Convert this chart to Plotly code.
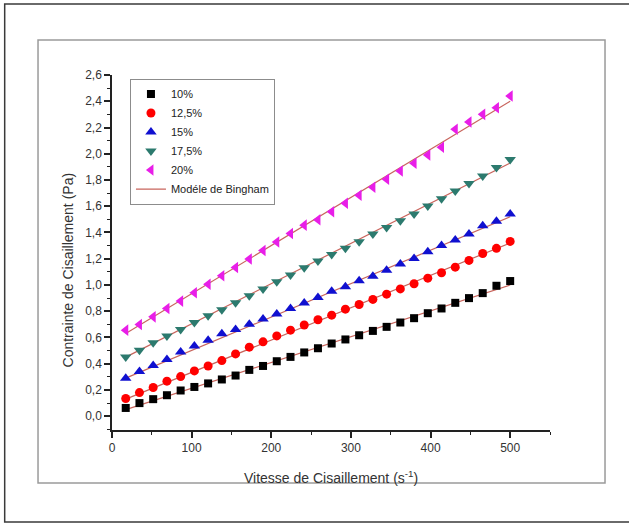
import plotly.graph_objects as go

# Shear rate (s^-1) at which each stress reading was taken
shear_rate = [17.24, 34.48, 51.72, 68.97, 86.21, 103.45, 120.69, 137.93, 155.17, 172.41,
              189.66, 206.90, 224.14, 241.38, 258.62, 275.86, 293.10, 310.34, 327.59, 344.83,
              362.07, 379.31, 396.55, 413.79, 431.03, 448.28, 465.52, 482.76, 500.00]

# Measured shear stress (Pa) per concentration
stress_10 = [0.063, 0.100, 0.130, 0.160, 0.196, 0.223, 0.250, 0.280, 0.310, 0.353,
             0.383, 0.419, 0.452, 0.486, 0.518, 0.554, 0.585, 0.617, 0.650, 0.681,
             0.714, 0.747, 0.785, 0.821, 0.864, 0.900, 0.938, 0.994, 1.030]
stress_12_5 = [0.135, 0.180, 0.219, 0.267, 0.302, 0.345, 0.383, 0.424, 0.475, 0.526,
               0.567, 0.612, 0.656, 0.695, 0.735, 0.770, 0.816, 0.851, 0.890, 0.930,
               0.970, 1.009, 1.052, 1.093, 1.136, 1.187, 1.240, 1.279, 1.332]
stress_15 = [0.290, 0.340, 0.386, 0.432, 0.490, 0.535, 0.579, 0.628, 0.661, 0.700,
             0.740, 0.778, 0.821, 0.862, 0.905, 0.953, 0.986, 1.032, 1.067, 1.113,
             1.159, 1.202, 1.253, 1.301, 1.342, 1.388, 1.452, 1.485, 1.540]
stress_17_5 = [0.452, 0.503, 0.559, 0.612, 0.661, 0.714, 0.765, 0.812, 0.864, 0.918,
               0.970, 1.025, 1.077, 1.131, 1.182, 1.233, 1.279, 1.329, 1.388, 1.438,
               1.489, 1.540, 1.601, 1.657, 1.716, 1.774, 1.830, 1.896, 1.957]
stress_20 = [0.656, 0.699, 0.757, 0.821, 0.877, 0.941, 1.005, 1.070, 1.134, 1.198,
             1.263, 1.327, 1.392, 1.456, 1.497, 1.558, 1.622, 1.683, 1.744, 1.805,
             1.868, 1.927, 1.990, 2.049, 2.186, 2.242, 2.300, 2.351, 2.440]

# Bingham model fits: stress at the first and last shear rate
bingham_rate = [17.24, 500.0]
bingham_10 = [0.050, 1.000]
bingham_12_5 = [0.130, 1.320]
bingham_15 = [0.290, 1.520]
bingham_17_5 = [0.450, 1.930]
bingham_20 = [0.630, 2.400]

labels = ["10%", "12,5%", "15%", "17,5%", "20%"]
measured = [stress_10, stress_12_5, stress_15, stress_17_5, stress_20]
fits = [bingham_10, bingham_12_5, bingham_15, bingham_17_5, bingham_20]
symbols = ["square", "circle", "triangle-up", "triangle-down", "triangle-left"]
colors = ["#000000", "#ff0000", "#1010d0", "#2c7a6e", "#e81ee8"]
sizes = [8, 9, 10, 10, 10]
fit_color = "#c8645c"

fig = go.Figure()

# Model lines first so the markers sit on top of them
for i, fy in enumerate(fits):
    fig.add_trace(go.Scatter(
        x=bingham_rate, y=fy, mode="lines",
        line=dict(color=fit_color, width=1.2),
        name="Modéle de Bingham", legendgroup="bingham",
        showlegend=(i == 0), legendrank=10,
    ))

for i, (lab, ys) in enumerate(zip(labels, measured)):
    fig.add_trace(go.Scatter(
        x=shear_rate, y=ys, mode="markers", name=lab,
        marker=dict(symbol=symbols[i], color=colors[i], size=sizes[i],
                    line=dict(width=0)),
        legendrank=i + 1,
    ))

axis_color = "#222222"
tick_font = dict(family="Liberation Sans, Arial, sans-serif", size=12, color="#333333")

fig.update_xaxes(
    range=[0, 550], tickmode="linear", tick0=0, dtick=100,
    showgrid=False, zeroline=False, showline=True, linecolor=axis_color, linewidth=1.5,
    ticks="outside", ticklen=6, tickwidth=1.5, tickcolor=axis_color, tickfont=tick_font,
    minor=dict(dtick=50, ticks="outside", ticklen=3, tickwidth=1.2, tickcolor=axis_color),
)
fig.update_yaxes(
    range=[-0.105, 2.6], tickmode="linear", tick0=0, dtick=0.2, tickformat=".1f",
    showgrid=False, zeroline=False, showline=True, linecolor=axis_color, linewidth=1.5,
    ticks="outside", ticklen=6, tickwidth=1.5, tickcolor=axis_color, tickfont=tick_font,
    minor=dict(dtick=0.1, ticks="outside", ticklen=3, tickwidth=1.2, tickcolor=axis_color),
)

title_font = dict(family="Liberation Sans, Arial, sans-serif", size=14, color="#333333")

fig.add_annotation(
    text="Vitesse de Cisaillement (s<sup>-1</sup>)", xref="paper", yref="paper",
    x=0.5, y=-0.132, xanchor="center", yanchor="middle", showarrow=False, font=title_font,
)
fig.add_annotation(
    text="Contrainte de Cisaillement (Pa)", xref="paper", yref="paper",
    x=-0.1, y=0.45, xanchor="center", yanchor="middle", textangle=-90,
    showarrow=False, font=title_font,
)

# Outer page border (open on the right) and the grey graph frame
fig.add_shape(type="rect", xref="paper", yref="paper",
              x0=-0.245, y0=-0.259, x1=1.45, y1=1.2,
              line=dict(color="#3a3a3a", width=1.5), layer="below")
fig.add_shape(type="rect", xref="paper", yref="paper",
              x0=-0.1689, y0=-0.1493, x1=1.1256, y1=1.0986,
              line=dict(color="#9a9a9a", width=1.5), layer="below")

fig.update_layout(
    width=629, height=523,
    margin=dict(l=112, r=79, t=75, b=93),
    paper_bgcolor="white", plot_bgcolor="white",
    separators=", ",
    showlegend=True,
    legend=dict(
        x=0.041, y=0.99, xanchor="left", yanchor="top",
        bgcolor="white", bordercolor="#8c8c8c", borderwidth=1,
        font=dict(family="Liberation Sans, Arial, sans-serif", size=11, color="#222222"),
        tracegroupgap=0,
    ),
)

fig.write_html("out.html")
